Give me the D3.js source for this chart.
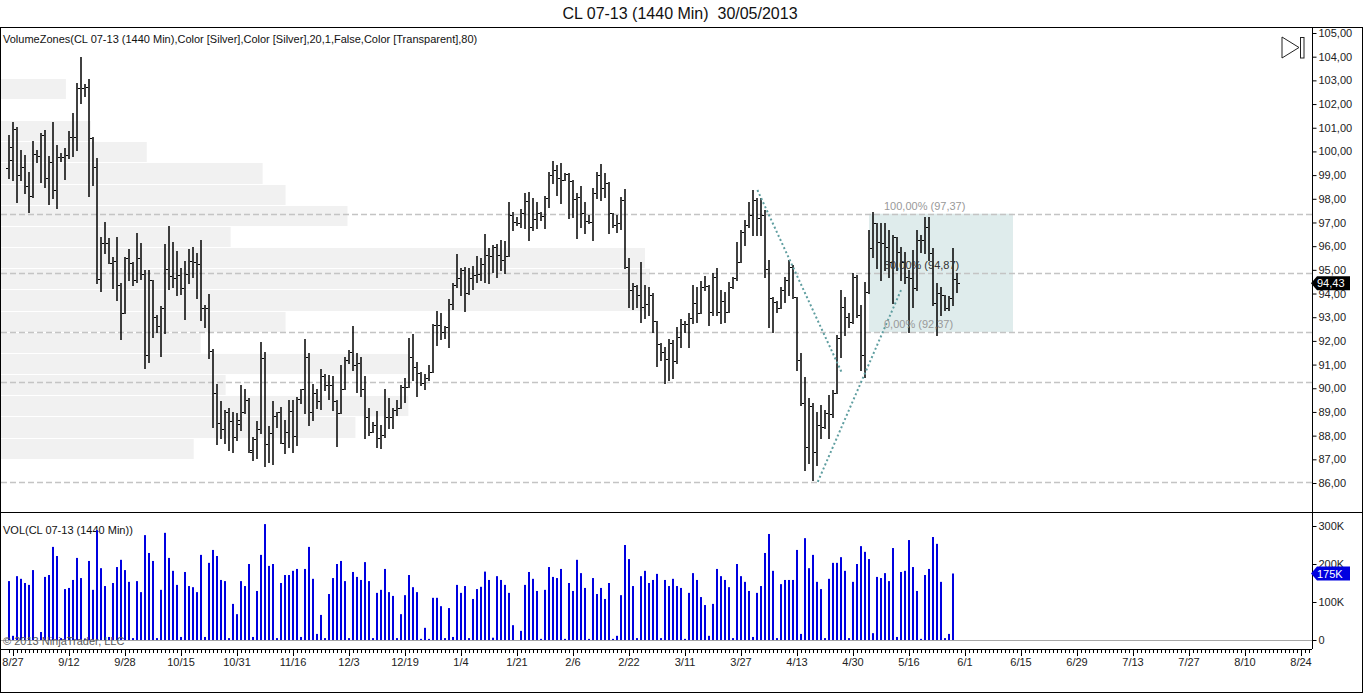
<!DOCTYPE html>
<html>
<head>
<meta charset="utf-8">
<script src="https://cdn.jsdelivr.net/npm/d3@7"></script>
<style>
body { margin: 0; background: #fff; }
text { font-family: "Liberation Sans", Arial, sans-serif; }
</style>
</head>
<body>
<div id="chart"></div>
<script>
// daily bars of CL 07-13, one per session
var opens = [99.28,100.17,100.93,99.0,99.35,98.54,98.13,99.89,99.8,100.69,98.89,99.54,98.37,99.78,99.75,99.85,100.59,100.62,102.66,102.66,
102.71,100.55,99.33,94.61,96.14,96.14,95.27,95.38,94.38,93.16,95.52,95.27,94.57,95.48,94.82,91.4,94.57,93.02,92.62,93.37,
95.02,94.74,94.64,94.77,94.22,94.82,95.38,95.34,95.23,93.37,93.4,91.57,89.78,88.52,88.3,89.01,88.61,87.95,88.49,88.98,
89.5,87.32,87.84,88.26,91.26,87.63,88.09,88.84,88.98,87.71,88.14,89.04,88.0,89.53,89.95,91.3,88.98,89.78,89.46,90.5,
90.14,90.12,89.47,88.94,89.99,91.19,91.54,90.98,91.05,89.97,88.77,88.16,88.45,87.91,88.02,88.8,88.8,89.08,89.18,90.04,
90.06,91.33,90.88,90.66,90.23,90.42,90.7,92.67,92.67,92.39,92.6,93.54,94.36,94.64,94.99,94.01,94.64,94.78,94.82,95.24,
95.62,95.58,95.98,95.62,95.41,95.58,97.31,97.03,96.99,97.38,97.92,96.82,97.13,97.41,97.27,98.02,99.0,99.21,98.86,98.79,
99.05,98.76,97.98,98.09,97.38,97.08,97.03,98.26,99.0,98.44,98.65,97.38,96.89,96.96,97.95,95.13,94.15,94.32,93.94,93.44,
93.56,93.94,92.85,91.89,91.54,91.22,91.92,91.16,92.18,92.71,92.71,92.95,93.58,93.16,94.26,94.32,93.2,94.71,93.2,93.7,
93.23,94.29,94.64,95.34,96.61,96.89,97.31,97.95,97.17,97.31,95.02,93.8,93.65,93.4,94.15,94.57,95.1,93.84,91.19,89.39,
87.53,89.25,87.32,88.45,88.38,88.94,88.91,89.78,92.11,93.44,93.02,92.81,94.71,93.09,91.4,94.08,95.91,96.96,96.19,96.12,
95.98,95.34,96.4,95.77,95.34,94.71,94.64,94.22,96.26,96.26,96.82,95.7,93.58,94.01,93.94,93.37,93.8,94.6];
var highs = [100.69,101.25,101.01,100.06,99.85,99.13,100.45,100.06,100.76,100.9,99.8,101.25,100.27,99.92,100.16,100.87,101.63,102.87,104.0,102.83,
103.04,100.59,99.71,96.4,97.03,96.36,95.55,96.4,94.43,95.55,95.88,95.34,96.54,96.14,94.99,94.99,94.57,93.09,93.47,96.09,
96.85,96.19,95.81,95.06,95.38,95.9,95.98,95.7,96.26,93.51,94.0,91.64,90.18,89.46,89.08,89.15,89.01,88.94,90.14,89.99,
89.57,87.95,88.63,91.94,91.54,88.4,89.46,88.98,89.22,88.66,89.5,89.5,89.64,89.99,92.08,91.47,90.18,89.99,90.81,90.6,
90.56,90.53,89.5,90.98,91.3,91.61,92.63,91.47,91.33,90.52,89.15,88.59,89.04,88.47,89.97,89.57,89.15,89.5,90.14,90.42,
92.11,92.29,91.12,90.7,90.6,90.98,92.71,93.26,93.16,92.63,93.75,94.46,95.67,95.06,95.13,95.06,95.16,95.58,95.48,96.51,
95.91,96.05,96.09,96.26,96.23,97.88,97.46,97.24,97.55,98.23,98.27,98.02,97.88,97.46,98.12,99.14,99.59,99.43,99.5,99.1,
99.1,98.8,98.26,98.55,97.88,97.31,98.44,99.14,99.47,99.07,98.72,97.4,97.31,98.09,98.4,95.48,94.43,94.35,95.34,94.36,
94.29,94.01,92.85,91.92,91.75,92.06,92.04,92.6,92.91,92.85,93.16,94.36,94.29,94.54,94.74,94.35,94.85,95.06,94.15,94.08,
94.5,94.71,96.19,96.68,97.1,97.88,98.37,98.02,98.02,97.53,95.41,93.87,93.7,94.26,94.71,95.41,95.2,93.87,91.47,90.49,
89.57,89.36,89.01,89.29,89.08,89.71,89.92,92.25,94.15,93.87,93.19,94.85,94.78,93.51,94.5,96.68,97.46,96.96,96.96,96.96,
96.68,96.47,96.4,95.98,95.77,94.99,95.84,96.68,96.47,97.24,97.24,95.91,94.43,94.29,93.94,93.89,95.91,94.85];
var lows = [98.89,98.79,97.88,98.79,98.26,97.43,98.09,99.55,98.72,98.48,97.76,98.02,97.59,99.61,98.85,99.71,99.8,100.06,102.03,102.35,
98.13,98.58,94.43,94.09,95.72,95.27,94.22,93.72,92.06,93.16,94.57,94.38,94.5,94.6,90.84,91.12,92.17,92.39,91.36,92.32,
94.17,94.29,93.93,93.96,92.91,94.43,94.68,93.79,92.88,92.6,91.26,88.37,87.63,87.91,87.67,87.39,87.32,87.81,88.23,88.94,
87.32,86.97,87.04,88.09,86.71,86.9,86.79,88.38,87.67,87.25,87.53,87.32,87.6,89.36,88.94,88.45,88.66,89.15,89.12,89.92,
89.53,89.08,87.56,88.94,89.95,91.05,90.77,89.85,89.67,87.92,88.02,88.16,87.53,87.46,87.95,88.31,88.31,88.87,89.15,89.4,
90.04,90.35,89.68,90.14,89.95,90.36,90.7,91.82,92.06,92.11,91.75,93.33,94.29,93.94,93.27,93.98,94.17,94.5,94.57,94.5,
94.43,94.92,94.71,94.99,94.85,95.58,96.68,96.89,96.82,96.75,96.26,96.68,96.75,97.1,96.75,97.67,98.65,98.16,97.81,98.79,
97.17,97.24,96.33,96.82,96.57,96.96,96.26,98.02,97.95,98.09,96.54,96.79,96.61,96.71,95.06,93.44,93.33,93.44,92.81,92.95,
93.09,92.39,90.94,91.19,90.21,90.35,90.42,91.05,91.75,92.39,91.75,92.74,92.81,93.16,94.15,92.67,93.09,93.09,92.77,92.81,
93.23,94.22,94.57,95.34,96.05,96.82,96.47,96.47,96.47,94.71,92.6,92.39,93.23,93.37,93.65,93.94,93.8,90.77,89.29,86.55,
86.83,86.12,86.76,87.88,88.31,87.88,88.8,89.78,91.33,92.25,92.6,92.74,93.02,90.77,90.49,94.01,95.55,95.06,94.57,94.99,
94.71,93.58,94.99,94.57,94.43,92.39,93.44,94.15,95.77,95.7,95.41,93.51,92.25,93.09,93.3,93.3,93.51,94.08];
var closes = [99.63,100.93,99.0,99.35,98.54,98.13,99.89,99.8,100.69,98.89,99.54,98.37,99.78,99.75,99.85,100.59,100.62,102.66,102.66,102.71,
100.55,99.33,94.61,96.14,96.14,95.27,95.38,94.38,93.16,95.52,95.27,94.57,95.48,94.82,91.4,94.57,93.02,92.62,93.37,95.02,
94.74,94.64,94.77,94.22,94.82,95.38,95.34,95.23,93.37,93.4,91.57,89.78,88.52,88.3,89.01,88.61,87.95,88.66,88.98,89.5,
87.39,87.84,88.26,91.26,87.63,88.09,88.84,88.98,87.71,88.14,89.04,88.0,89.53,89.95,91.3,88.98,89.78,89.46,90.5,90.14,
90.12,89.47,88.94,89.99,91.19,91.54,90.98,91.05,89.97,88.77,88.16,88.45,87.91,88.02,88.8,88.8,89.08,89.18,90.04,90.06,
91.33,90.88,90.66,90.23,90.42,90.7,92.67,92.67,92.39,92.6,93.54,94.36,94.64,94.99,94.01,94.64,94.78,94.82,95.25,95.62,
95.58,95.98,95.62,95.41,95.58,97.31,97.03,96.99,97.38,97.92,96.82,97.13,97.41,97.27,98.02,99.0,99.21,98.86,98.79,99.05,
98.76,97.98,98.09,97.38,97.08,97.03,98.26,99.0,98.44,98.65,97.38,96.89,96.96,97.95,95.13,94.15,94.32,93.94,93.44,93.56,
93.94,92.85,91.89,91.54,91.22,91.92,91.16,92.18,92.71,92.71,92.95,93.58,93.16,94.26,94.32,93.2,94.71,93.2,93.7,93.23,
94.29,94.64,95.34,96.61,96.89,97.31,97.95,97.17,97.31,95.02,93.8,93.65,93.4,94.15,94.57,95.1,93.84,91.19,89.39,87.53,
89.25,87.32,88.45,88.38,88.94,88.91,89.78,92.11,93.44,93.02,92.81,94.71,93.09,91.4,94.08,95.91,96.96,96.19,96.12,95.98,
95.34,96.4,95.77,95.34,94.71,94.64,94.22,96.26,96.26,96.82,95.7,93.58,94.01,93.94,93.37,93.8,94.6,94.43];

// volume in K, the running bar (last one) is not plotted
var volumes = [155,11,168,161,150,145,184,0,21,166,171,245,221,5,134,137,158,216,163,4,
208,132,289,189,142,8,150,192,211,184,153,5,155,126,276,229,208,5,132,282,
216,182,145,8,179,142,139,126,224,8,203,237,221,158,155,5,95,68,155,142,
200,8,129,224,305,195,200,5,150,171,171,182,187,8,187,245,161,16,66,5,
121,163,200,208,155,5,179,166,158,205,155,5,124,132,187,126,116,5,68,118,
171,139,126,3,32,3,111,111,89,5,84,8,145,124,142,5,108,134,140,180,
158,6,168,158,145,124,39,0,24,145,179,161,129,3,132,192,166,163,187,3,
150,129,211,176,137,3,163,121,137,108,150,3,11,118,250,213,142,5,168,182,
150,158,174,5,158,142,161,142,137,3,124,176,158,113,92,11,95,187,168,158,
139,5,200,168,153,129,8,124,142,229,279,182,5,147,158,158,158,237,16,268,
189,224,153,134,5,161,203,203,218,182,5,153,200,247,232,213,18,166,163,176,
155,242,8,179,182,263,192,129,3,171,187,271,253,153,5,16,175];

var dateLabels = ["8/27","9/12","9/28","10/15","10/31","11/16","12/3","12/19","1/4","1/21","2/6","2/22",
  "3/11","3/27","4/13","4/30","5/16","6/1","6/15","6/29","7/13","7/27","8/10","8/24"];

// volume zones, 20 price rows from the low 86,13 to the high 104,00 (bottom row first)
var zoneVolumes = [0,193,355,408,225,408,200,285,645,650,645,230,347,285,262,146,90,0,65,0];

var levelPrices = [97.37, 94.87, 92.37, 90.28, 86.05];
var fibLevels = [1, 0.5, 0];
var trendA = [[187.1, 98.37], [208.2, 90.66]];
var trendB = [[202.2, 86.05], [223.2, 94.22]];
var priceTicks = d3.range(86, 106);
var volTicks = [0, 100, 200, 300];

var W = 1366, H = 694;
var plotR = 1312, priceTop = 27, sepY = 512, axisY = 649;
var fmt = function(v) { return v.toFixed(2).replace(".", ","); };

var svg = d3.select("#chart").append("svg")
  .attr("width", W).attr("height", H);

var x = d3.scaleLinear().domain([0, 325]).range([9, 1309]);
var y = d3.scaleLinear().domain([86, 105]).range([483, 33]);
var yv = d3.scaleLinear().domain([0, 300]).range([640, 526]);
var zx = d3.scaleLinear().domain([0, d3.max(zoneVolumes)]).range([0, 649]);

svg.append("clipPath").attr("id", "clipPrice")
  .append("rect").attr("x", 1).attr("y", priceTop + 1)
  .attr("width", plotR - 1).attr("height", sepY - priceTop - 1);

// title
svg.append("text")
  .attr("x", 680).attr("y", 19)
  .attr("text-anchor", "middle")
  .style("white-space", "pre")
  .attr("font-size", 16).attr("fill", "#111")
  .text("CL 07-13 (1440 Min)  30/05/2013");

var price = svg.append("g").attr("clip-path", "url(#clipPrice)");

// volume zones
var zLow = 86.13, zStep = (104.0 - 86.13) / 20;
price.selectAll("rect.zone")
  .data(zoneVolumes.map(function(v, i) { return {v: v, i: i}; }).filter(function(d) { return d.v > 0; }))
  .enter().append("rect")
  .attr("class", "zone")
  .attr("x", 1)
  .attr("y", function(d) { return Math.round(y(zLow + (d.i + 1) * zStep)) + 1; })
  .attr("width", function(d) { return zx(d.v); })
  .attr("height", function(d) { return Math.round(y(zLow + d.i * zStep)) - Math.round(y(zLow + (d.i + 1) * zStep)) - 1; })
  .attr("fill", "#f1f1f1");

// fib retracement box
var fibStart = 215, fibEnd = 251, fibHigh = 97.37, fibLow = 92.37;
price.append("rect")
  .attr("x", x(fibStart)).attr("y", y(fibHigh))
  .attr("width", x(fibEnd) - x(fibStart))
  .attr("height", y(fibLow) - y(fibHigh))
  .attr("fill", "#5f9ea0").attr("fill-opacity", 0.2);

// dashed levels
price.selectAll("line.level")
  .data(levelPrices).enter().append("line")
  .attr("x1", 1).attr("x2", plotR)
  .attr("y1", function(d) { return Math.round(y(d)) + 0.5; })
  .attr("y2", function(d) { return Math.round(y(d)) + 0.5; })
  .attr("stroke", "#c4c4c4").attr("stroke-width", 1.6)
  .attr("stroke-dasharray", "6,3");

// indicator label
svg.append("text")
  .attr("x", 3).attr("y", 43)
  .attr("font-size", 11).attr("fill", "#111")
  .text("VolumeZones(CL 07-13 (1440 Min),Color [Silver],Color [Silver],20,1,False,Color [Transparent],80)");

// ohlc bars
var bars = price.selectAll("g.bar")
  .data(opens.map(function(o, i) { return {i: i, o: o, h: highs[i], l: lows[i], c: closes[i]}; }))
  .enter().append("g").attr("class", "bar");

bars.append("line")
  .attr("x1", function(d) { return Math.round(x(d.i)); })
  .attr("x2", function(d) { return Math.round(x(d.i)); })
  .attr("y1", function(d) { return Math.round(y(d.h)); })
  .attr("y2", function(d) { return Math.round(y(d.l)) + 1; })
  .attr("stroke", "#000").attr("stroke-width", 1.5);

bars.append("line")
  .attr("x1", function(d) { return Math.round(x(d.i)) - 3; })
  .attr("x2", function(d) { return Math.round(x(d.i)) - 1; })
  .attr("y1", function(d) { return Math.round(y(d.o)) + 0.5; })
  .attr("y2", function(d) { return Math.round(y(d.o)) + 0.5; })
  .attr("stroke", "#000").attr("stroke-width", 1);

bars.append("line")
  .attr("x1", function(d) { return Math.round(x(d.i)) + 1; })
  .attr("x2", function(d) { return Math.round(x(d.i)) + 3; })
  .attr("y1", function(d) { return Math.round(y(d.c)) + 0.5; })
  .attr("y2", function(d) { return Math.round(y(d.c)) + 0.5; })
  .attr("stroke", "#000").attr("stroke-width", 1);

// dotted trend lines
[trendA, trendB].forEach(function(t) {
  price.append("line")
    .attr("x1", x(t[0][0])).attr("y1", y(t[0][1]))
    .attr("x2", x(t[1][0])).attr("y2", y(t[1][1]))
    .attr("stroke", "#5f9ea0").attr("stroke-width", 2)
    .attr("stroke-dasharray", "2,2.5");
});

// fib labels
price.selectAll("text.fib")
  .data(fibLevels).enter().append("text")
  .attr("x", x(fibStart) + 15)
  .attr("y", function(d) { return y(fibLow + d * (fibHigh - fibLow)) - 4; })
  .attr("font-size", 11)
  .attr("fill", function(d) { return d == 0.5 ? "#333" : "#999"; })
  .text(function(d) {
    var p = fibLow + d * (fibHigh - fibLow);
    return fmt(d * 100) + "% (" + fmt(p) + ")";
  });

// volume panel
svg.append("line")
  .attr("x1", 1).attr("x2", plotR)
  .attr("y1", Math.round(yv(0)) + 0.5).attr("y2", Math.round(yv(0)) + 0.5)
  .attr("stroke", "#a8a8a8");

svg.append("text")
  .attr("x", 3).attr("y", 534)
  .attr("font-size", 11).attr("fill", "#111")
  .text("VOL(CL 07-13 (1440 Min))");

svg.selectAll("rect.vol")
  .data(volumes).enter().append("rect")
  .attr("class", "vol")
  .attr("x", function(d, i) { return Math.round(x(i)) - 1; })
  .attr("y", function(d) { return yv(d); })
  .attr("width", 2)
  .attr("height", function(d) { return yv(0) - yv(d); })
  .attr("fill", "#0000e0");

svg.append("text")
  .attr("x", 3).attr("y", 645)
  .attr("font-size", 11).attr("fill", "#5a5a5a")
  .text("\u00a9 2013 NinjaTrader, LLC");

// frame and separators
svg.append("rect")
  .attr("x", 0.5).attr("y", priceTop + 0.5)
  .attr("width", 1362).attr("height", 665)
  .attr("fill", "none").attr("stroke", "#000");
svg.append("line")
  .attr("x1", 0).attr("x2", 1363)
  .attr("y1", sepY + 0.5).attr("y2", sepY + 0.5)
  .attr("stroke", "#000");
svg.append("line")
  .attr("x1", plotR + 0.5).attr("x2", plotR + 0.5)
  .attr("y1", priceTop).attr("y2", axisY)
  .attr("stroke", "#000");

// price axis
var pAxis = svg.append("g")
  .attr("transform", "translate(" + (plotR + 0.5) + ",0)")
  .call(d3.axisRight(y).tickValues(priceTicks).tickSize(4).tickPadding(2).tickFormat(fmt));
pAxis.select(".domain").remove();
pAxis.selectAll("text").attr("font-size", 11).attr("fill", "#222").attr("font-family", null);

// volume axis
var vAxis = svg.append("g")
  .attr("transform", "translate(" + (plotR + 0.5) + ",0)")
  .call(d3.axisRight(yv).tickValues(volTicks).tickSize(4).tickPadding(2)
    .tickFormat(function(d) { return d ? d + "K" : "0"; }));
vAxis.select(".domain").remove();
vAxis.selectAll("text").attr("font-size", 11).attr("fill", "#222").attr("font-family", null);

// last value markers
function marker(cy, label, color) {
  var g = svg.append("g");
  g.append("path")
    .attr("d", "M" + (plotR - 1) + "," + cy + "L" + (plotR + 5) + "," + (cy - 7) + "H1350V" + (cy + 7) + "H" + (plotR + 5) + "Z")
    .attr("fill", color);
  g.append("text")
    .attr("x", plotR + 5).attr("y", cy + 4)
    .attr("font-size", 11).attr("fill", "#fff")
    .text(label);
}
marker(y(closes[closes.length - 1]), fmt(closes[closes.length - 1]), "#000");
marker(yv(volumes[volumes.length - 1]), volumes[volumes.length - 1] + "K", "#0000e0");

// date axis
svg.append("line")
  .attr("x1", 1).attr("x2", plotR)
  .attr("y1", axisY + 0.5).attr("y2", axisY + 0.5)
  .attr("stroke", "#000");

svg.selectAll("line.minor")
  .data(d3.range(0, 326)).enter().append("line")
  .attr("x1", function(d) { return Math.round(x(d)) + 0.5; })
  .attr("x2", function(d) { return Math.round(x(d)) + 0.5; })
  .attr("y1", axisY).attr("y2", axisY + 4)
  .attr("stroke", "#000");

var majors = dateLabels.map(function(t, k) { return {t: t, i: 1 + 14 * k}; });
svg.selectAll("line.major")
  .data(majors).enter().append("line")
  .attr("x1", function(d) { return Math.round(x(d.i)) + 0.5; })
  .attr("x2", function(d) { return Math.round(x(d.i)) + 0.5; })
  .attr("y1", axisY).attr("y2", axisY + 7)
  .attr("stroke", "#000");
svg.selectAll("text.date")
  .data(majors).enter().append("text")
  .attr("x", function(d) { return x(d.i); })
  .attr("y", 666)
  .attr("text-anchor", "middle")
  .attr("font-size", 11).attr("fill", "#222")
  .text(function(d) { return d.t; });

// scroll to end icon
svg.append("path")
  .attr("d", "M1282,37L1282,58L1299,47.5Z")
  .attr("fill", "none").attr("stroke", "#222");
svg.append("rect")
  .attr("x", 1300.5).attr("y", 37.5).attr("width", 3.5).attr("height", 20.5)
  .attr("fill", "none").attr("stroke", "#222");
</script>
</body>
</html>
